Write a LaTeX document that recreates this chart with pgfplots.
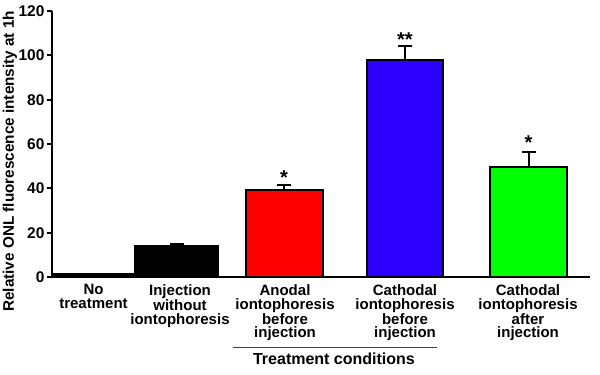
\documentclass[border=0pt]{standalone}
\usepackage{fontspec}
\setmainfont{Liberation Sans}
\usepackage{pgfplots}
\pgfplotsset{compat=1.18}
\definecolor{cblue}{HTML}{2B00FF}
\definecolor{cgreen}{HTML}{00FF00}
\definecolor{cred}{HTML}{FF0000}
\begin{document}
\begin{tikzpicture}
\begin{axis}[
 scale only axis, width=538pt, height=266pt,
 xmin=52, xmax=590, ymin=0, ymax=120,
 axis x line*=bottom, axis y line*=left,
 axis line style={line width=2.2pt},
 ytick={0,20,...,120},
 y tick style={line width=1.8pt, black},
 tick align=outside, major tick length=5pt,
 xtick={93.5,180,285,405,528},
 xticklabels={No\\treatment, Injection\\without\\iontophoresis, Anodal\\iontophoresis\\before\\injection, Cathodal\\iontophoresis\\before\\injection, Cathodal\\iontophoresis\\after\\injection},
 x tick style={draw=none},
 xticklabel style={align=center, font=\bfseries\fontsize{15}{13.7}\selectfont, anchor=north, yshift=1pt},
 yticklabel style={font=\bfseries\fontsize{15.5}{15}\selectfont, xshift=1pt},
 /pgf/number format/assume math mode=true,
 ylabel={Relative ONL fluorescence intensity at 1h},
 ylabel style={font=\bfseries\fontsize{15.3}{15}\selectfont, anchor=center, at={(axis description cs:-0.078,0.435)}},
 clip=false,
 error bars/error bar style={line width=2pt, black},
 error bars/error mark options={rotate=90, mark size=7pt, line width=2pt, black},
]
\addplot[ybar, bar shift=0, bar width=83, fill=black, draw=black, line width=1.5pt]
  coordinates {(93.5,1.5)};
\addplot[ybar, bar shift=0, bar width=83, fill=black, draw=black, line width=1.5pt,
  error bars/.cd, y dir=plus, y explicit]
  coordinates {(176.5,14) +- (0,1)};
\addplot[ybar, bar shift=0, bar width=77, fill=cred, draw=black, line width=2pt,
  error bars/.cd, y dir=plus, y explicit]
  coordinates {(284,39.3) +- (0,2.2)};
\addplot[ybar, bar shift=0, bar width=76, fill=cblue, draw=black, line width=2pt,
  error bars/.cd, y dir=plus, y explicit]
  coordinates {(405,98) +- (0,6.3)};
\addplot[ybar, bar shift=0, bar width=77, fill=cgreen, draw=black, line width=2pt,
  error bars/.cd, y dir=plus, y explicit]
  coordinates {(528.5,49.8) +- (0,6.6)};
\node[font=\bfseries\fontsize{20}{20}\selectfont, anchor=base] at (axis cs:284,41.7) {*};
\node[font=\bfseries\fontsize{20}{20}\selectfont, anchor=base] at (axis cs:405,104) {**};
\node[font=\bfseries\fontsize{20}{20}\selectfont, anchor=base] at (axis cs:528.5,57.5) {*};
\draw[line width=1pt, black!75] (axis cs:233,-32) -- (axis cs:437,-32);
\node[font=\bfseries\fontsize{16}{16}\selectfont] at (axis cs:334,-37) {Treatment conditions};
\end{axis}
\pgfresetboundingbox
\path (current axis.south west) ++(-52pt,-98pt) rectangle ++(600pt,375pt);
\end{tikzpicture}
\end{document}
